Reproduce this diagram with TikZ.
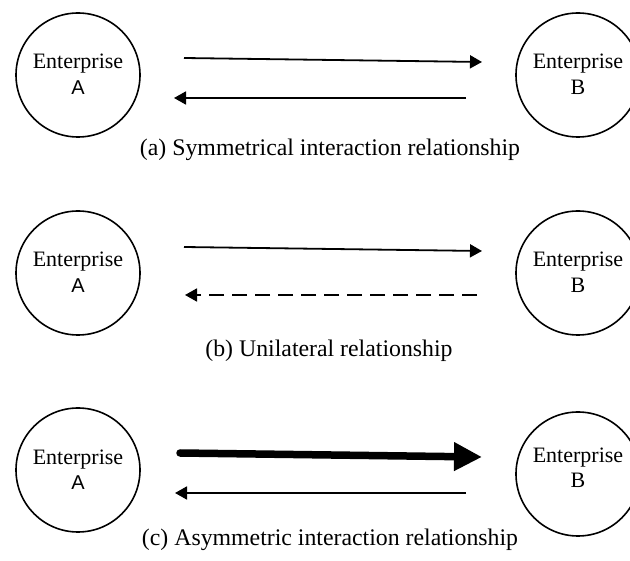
\documentclass[tikz,border=0pt]{standalone}
\usepackage{fontspec}
\setmainfont{Liberation Serif}
\newfontfamily\sansA{Liberation Sans}
\usetikzlibrary{arrows.meta,shapes.geometric}
\tikzset{
  entbox/.style={draw, line width=1.6pt, ellipse, minimum width=124pt, minimum height=124pt, inner sep=0pt},
  enttext/.style={font=\fontsize{22}{26}\selectfont, align=center, inner sep=0pt},
  captext/.style={font=\fontsize{23.8}{27}\selectfont, anchor=base, inner sep=0pt},
  thinarr/.style={line width=1.8pt, -{Triangle[length=12pt,width=13pt]}},
  dasharr/.style={thinarr, dash pattern=on 15pt off 8pt},
  thickarr/.style={line width=7.5pt, line cap=round, -{Triangle[length=28pt,width=27pt]}}
}
\begin{document}
\begin{tikzpicture}[x=1pt,y=-1pt]
\useasboundingbox[fill=white] (0,0) rectangle (630,561);
% panel (a)
\node[entbox] (A1) at (78,75) {};
\node[entbox] (B1) at (578,75) {};
\node[enttext, anchor=base] (A1t) at (78,69) {Enterprise};
\node[enttext, anchor=base] (A1l) at (78,95) {\sansA\fontsize{20}{22}\selectfont A};
\node[enttext, anchor=base] (B1t) at (578,69) {Enterprise};
\node[enttext, anchor=base] (B1l) at (578,95) {B};
\coordinate (a1s) at (184,58);
\coordinate (a1e) at (482,62);
\coordinate (a2s) at (466,98);
\coordinate (a2e) at (174,98);
\draw[thinarr] (a1s) -- (a1e);
\draw[thinarr] (a2s) -- (a2e);
\node[captext] (capa) at (330,156) {(a) Symmetrical interaction relationship};
% panel (b)
\node[entbox] (A2) at (78,273) {};
\node[entbox] (B2) at (578,273) {};
\node[enttext, anchor=base] (A2t) at (78,267) {Enterprise};
\node[enttext, anchor=base] (A2l) at (78,293) {\sansA\fontsize{20}{22}\selectfont A};
\node[enttext, anchor=base] (B2t) at (578,267) {Enterprise};
\node[enttext, anchor=base] (B2l) at (578,293) {B};
\coordinate (b1s) at (184,247);
\coordinate (b1e) at (482,251);
\coordinate (b2s) at (477,295);
\coordinate (b2e) at (185,295);
\draw[thinarr] (b1s) -- (b1e);
\draw[dasharr] (b2s) -- (b2e);
\node[captext] (capb) at (329,357) {(b) Unilateral relationship};
% panel (c)
\node[entbox] (A3) at (78,470) {};
\node[entbox] (B3) at (578,474) {};
\node[enttext, anchor=base] (A3t) at (78,465) {Enterprise};
\node[enttext, anchor=base] (A3l) at (78,490) {\sansA\fontsize{20}{22}\selectfont A};
\node[enttext, anchor=base] (B3t) at (578,463) {Enterprise};
\node[enttext, anchor=base] (B3l) at (578,488) {B};
\coordinate (c1s) at (180,453);
\coordinate (c1e) at (482,457);
\coordinate (c2s) at (466,493);
\coordinate (c2e) at (175,493);
\draw[thickarr] (c1s) -- (c1e);
\draw[thinarr] (c2s) -- (c2e);
\node[captext] (capc) at (330,546) {(c) Asymmetric interaction relationship};
\end{tikzpicture}
\end{document}
